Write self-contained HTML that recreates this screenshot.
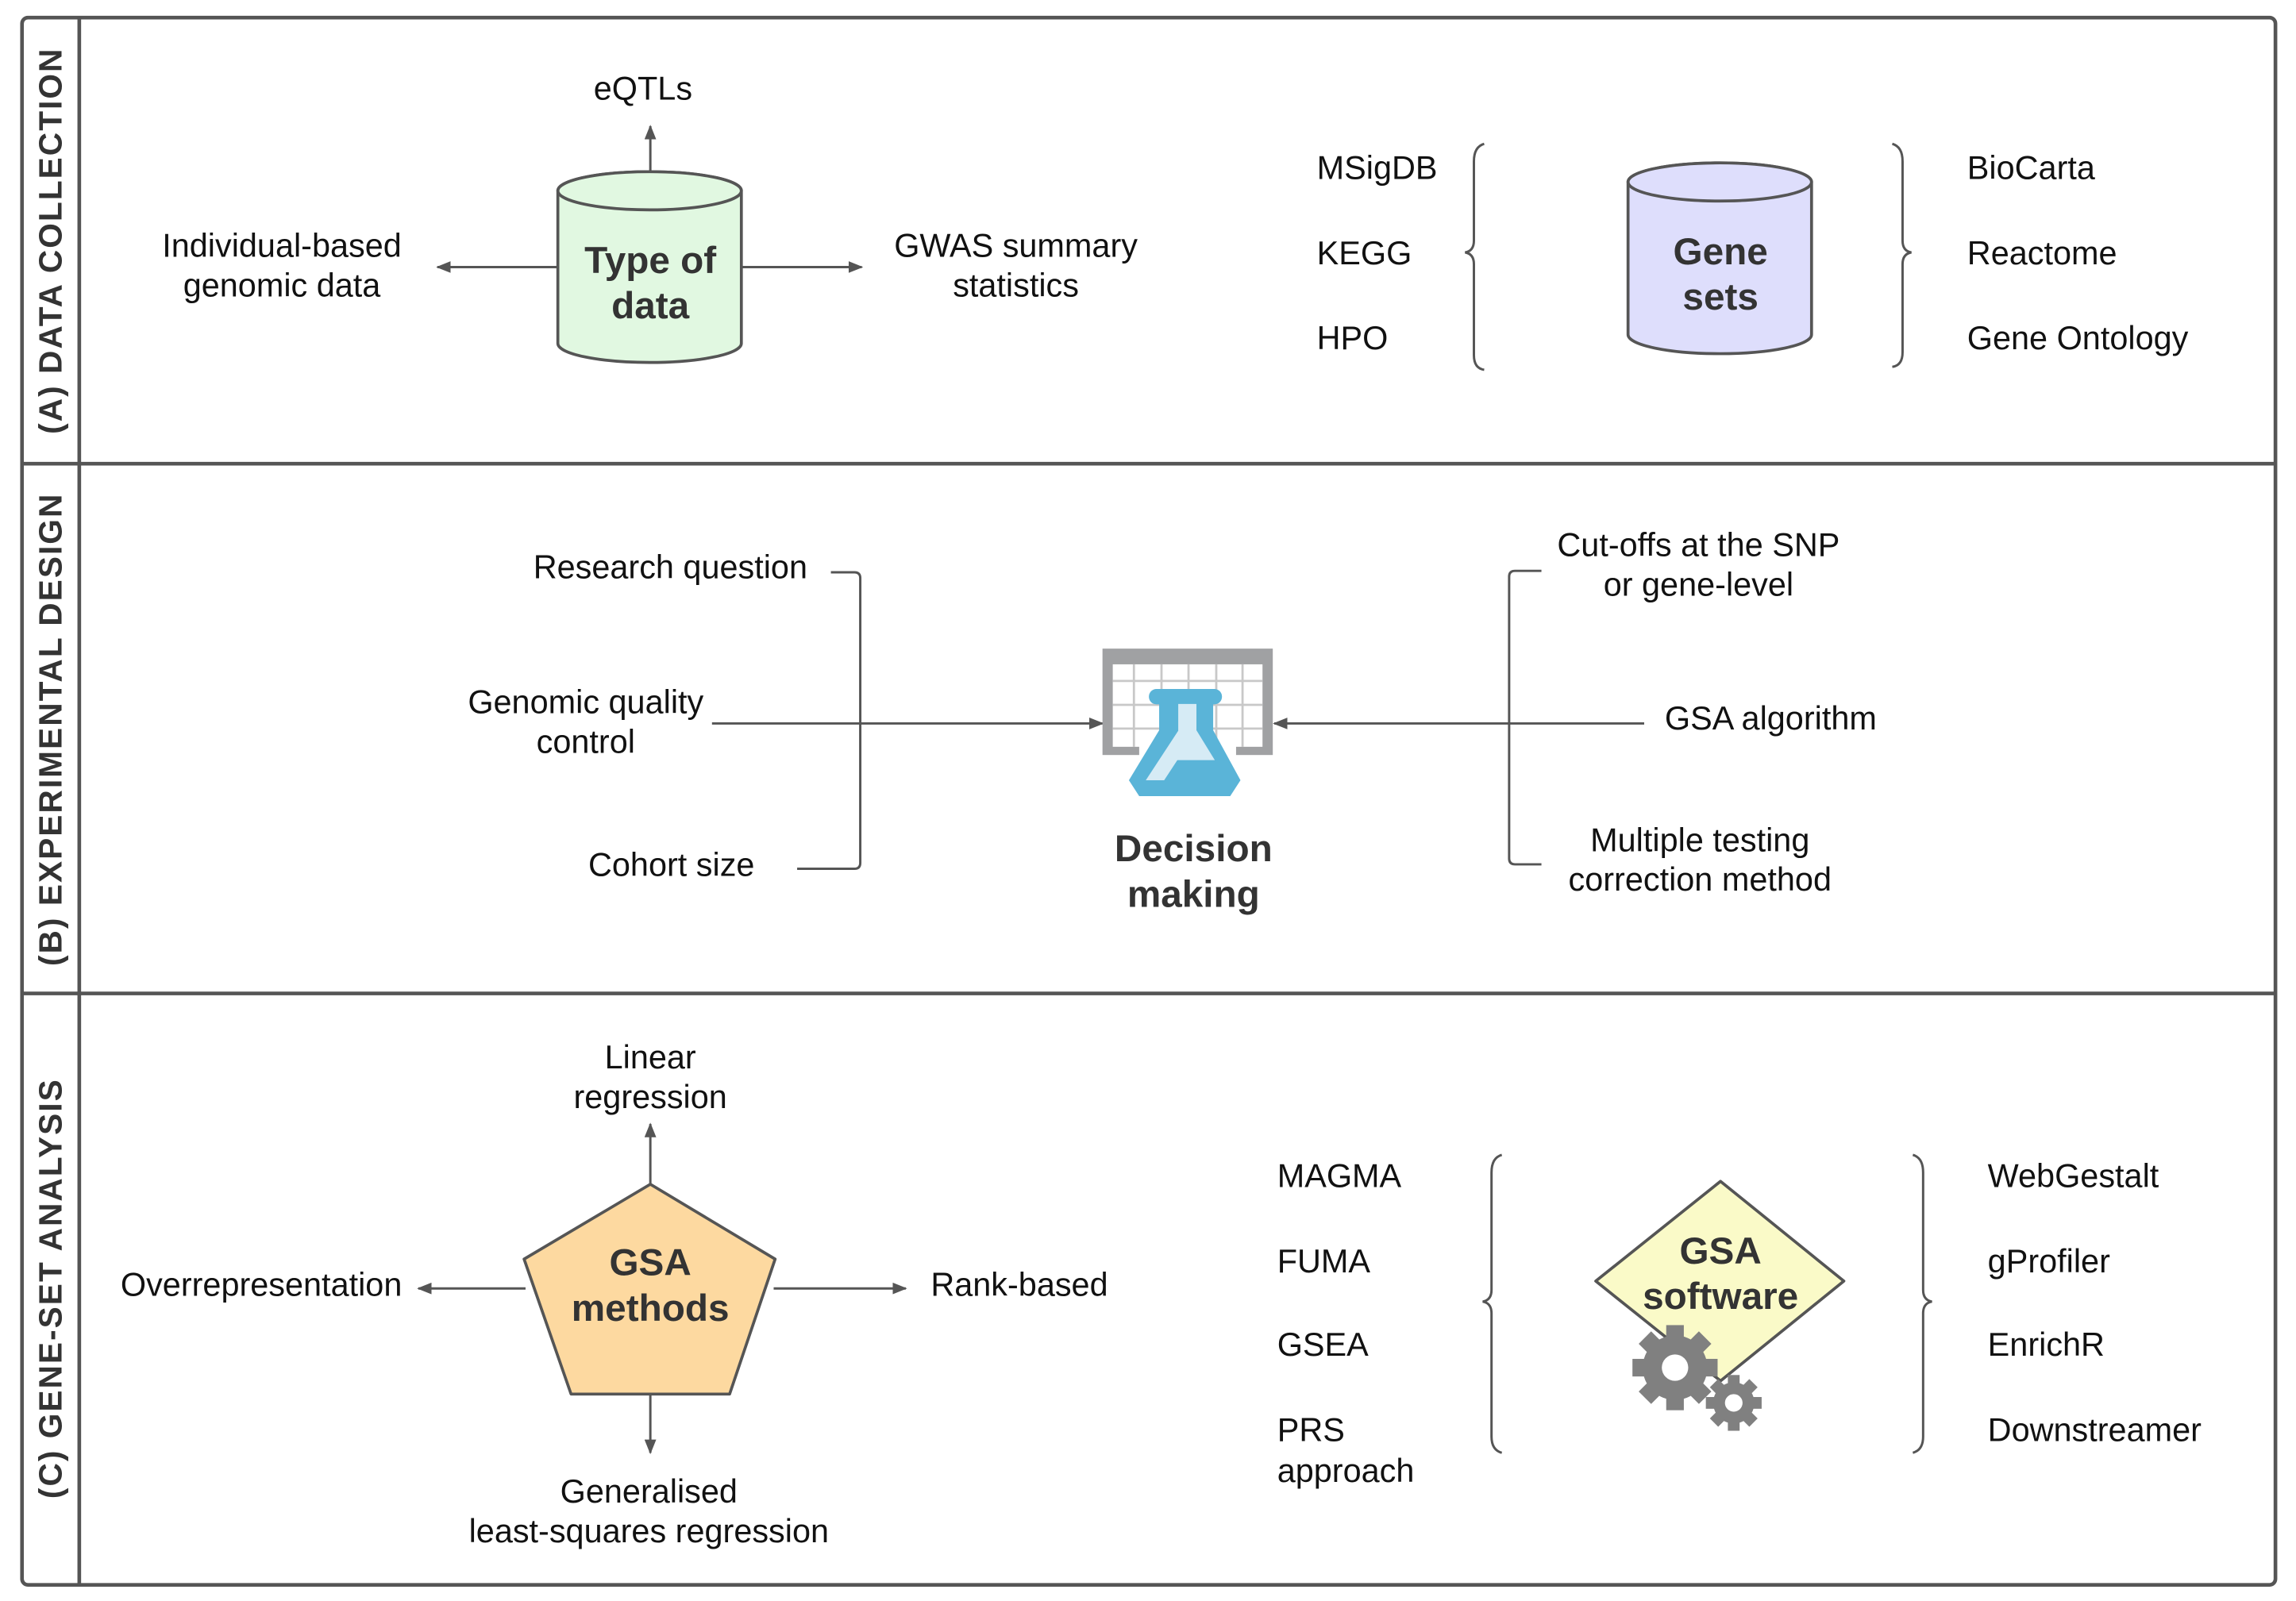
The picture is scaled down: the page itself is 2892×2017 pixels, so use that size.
<!DOCTYPE html>
<html><head><meta charset="utf-8"><style>
html,body{margin:0;padding:0;background:#fff}
svg{display:block}
text{font-family:"Liberation Sans",sans-serif;fill:#111}
.t{font-size:22.4px}
.b{font-size:25.8px;font-weight:bold;fill:#333}
.v{font-size:22px;font-weight:bold;fill:#333;letter-spacing:1.1px}
.ln{stroke:#555;stroke-width:1.6;fill:none}
</style></head><body>
<svg width="2892" height="2017" viewBox="0 0 1564 1091" preserveAspectRatio="none" xmlns="http://www.w3.org/2000/svg">
<defs>
<marker id="ah" markerWidth="10" markerHeight="8" refX="9" refY="4" orient="auto" markerUnits="userSpaceOnUse"><path d="M0,0 L10,4 L0,8 z" fill="#555"/></marker>
</defs>
<rect x="15" y="12" width="1535" height="1068" rx="4" fill="none" stroke="#555" stroke-width="2.5"/>
<line x1="54" y1="12" x2="54" y2="1080" stroke="#555" stroke-width="2.5"/>
<line x1="15" y1="316" x2="1550" y2="316" stroke="#555" stroke-width="2.5"/>
<line x1="15" y1="677" x2="1550" y2="677" stroke="#555" stroke-width="2.5"/>
<text class="v" transform="translate(42,164) rotate(-90)" text-anchor="middle">(A) DATA COLLECTION</text>
<text class="v" transform="translate(42,497) rotate(-90)" text-anchor="middle">(B) EXPERIMENTAL DESIGN</text>
<text class="v" transform="translate(42,878) rotate(-90)" text-anchor="middle">(C) GENE-SET ANALYSIS</text>

<line class="ln" x1="443" y1="117" x2="443" y2="86" marker-end="url(#ah)"/>
<line class="ln" x1="380" y1="182" x2="298" y2="182" marker-end="url(#ah)"/>
<line class="ln" x1="505" y1="182" x2="587" y2="182" marker-end="url(#ah)"/>
<path d="M380,130 L380,234 A62.5,13 0 0 0 505,234 L505,130 A62.5,13 0 0 0 380,130 z" fill="#e1f8e1" stroke="#555" stroke-width="2"/>
<ellipse cx="442.5" cy="130" rx="62.5" ry="13" fill="#e1f8e1" stroke="#555" stroke-width="2"/>
<text class="b" x="443" y="186" text-anchor="middle">Type of</text>
<text class="b" x="443" y="217" text-anchor="middle">data</text>
<text class="t" x="438" y="68" text-anchor="middle">eQTLs</text>
<text class="t" x="192" y="175" text-anchor="middle">Individual-based</text>
<text class="t" x="192" y="202" text-anchor="middle">genomic data</text>
<text class="t" x="692" y="175" text-anchor="middle">GWAS summary</text>
<text class="t" x="692" y="202" text-anchor="middle">statistics</text>

<path d="M1109,124 L1109,228 A62.5,13 0 0 0 1234,228 L1234,124 A62.5,13 0 0 0 1109,124 z" fill="#dedefc" stroke="#555" stroke-width="2"/>
<ellipse cx="1171.5" cy="124" rx="62.5" ry="13" fill="#dedefc" stroke="#555" stroke-width="2"/>
<text class="b" x="1172" y="180" text-anchor="middle">Gene</text>
<text class="b" x="1172" y="211" text-anchor="middle">sets</text>
<text class="t" x="897" y="122">MSigDB</text>
<text class="t" x="897" y="180">KEGG</text>
<text class="t" x="897" y="238">HPO</text>
<path class="ln" d="M1011,98 Q1004,100 1004,110 L1004,164 Q1004,171 998,172 Q1004,173 1004,180 L1004,242 Q1004,251 1011,252"/>
<path class="ln" d="M1289,98 Q1296,100 1296,110 L1296,164 Q1296,171 1302,172 Q1296,173 1296,180 L1296,240 Q1296,249 1289,250"/>
<text class="t" x="1340" y="122">BioCarta</text>
<text class="t" x="1340" y="180">Reactome</text>
<text class="t" x="1340" y="238">Gene Ontology</text>

<text class="t" x="550" y="394" text-anchor="end">Research question</text>
<text class="t" x="399" y="486" text-anchor="middle">Genomic quality</text>
<text class="t" x="399" y="513" text-anchor="middle">control</text>
<text class="t" x="514" y="597" text-anchor="end">Cohort size</text>
<path class="ln" d="M566,390 L582,390 Q586,390 586,394 L586,588 Q586,592 582,592 L543,592"/>
<line class="ln" x1="485" y1="493" x2="751" y2="493" marker-end="url(#ah)"/>
<path class="ln" d="M1050,389 L1032,389 Q1028,389 1028,393 L1028,585 Q1028,589 1032,589 L1050,589"/>
<line class="ln" x1="1120" y1="493" x2="868" y2="493" marker-end="url(#ah)"/>
<text class="t" x="1157" y="379" text-anchor="middle">Cut-offs at the SNP</text>
<text class="t" x="1157" y="406" text-anchor="middle">or gene-level</text>
<text class="t" x="1134" y="497">GSA algorithm</text>
<text class="t" x="1158" y="580" text-anchor="middle">Multiple testing</text>
<text class="t" x="1158" y="607" text-anchor="middle">correction method</text>
<!-- icon -->
<rect x="751" y="442" width="116" height="72.5" fill="#a0a1a3"/>
<rect x="758" y="452.7" width="102" height="56.2" fill="#fff"/>
<g stroke="#c8c8c8" stroke-width="1.5">
<line x1="758" y1="464" x2="860" y2="464"/><line x1="758" y1="480.3" x2="860" y2="480.3"/><line x1="758" y1="496.5" x2="860" y2="496.5"/>
<line x1="772.4" y1="452.7" x2="772.4" y2="509"/><line x1="791.2" y1="452.7" x2="791.2" y2="509"/><line x1="809.6" y1="452.7" x2="809.6" y2="509"/><line x1="828.5" y1="452.7" x2="828.5" y2="509"/><line x1="846.4" y1="452.7" x2="846.4" y2="509"/>
</g>
<path d="M776,505 L842,505 L842,515 L776,515 z" fill="#fff"/>
<path d="M790,485 L826,485 L826,505 L790,505 z" fill="#fff"/>
<rect x="782.6" y="469.5" width="49.8" height="10.5" rx="5.2" fill="#5ab4d8"/>
<path d="M789.6,478 L826.4,478 L826.4,497.6 L845,531.7 L838,542.5 L776,542.5 L769,531.7 L789.6,497.6 z" fill="#5ab4d8"/>
<path d="M802.6,479.7 L815,479.7 L815,497.6 L827.5,518 L802,518 L793,531.7 L780.5,531.7 L802.6,498 z" fill="#d6ebf5"/>
<text class="b" x="813" y="587" text-anchor="middle">Decision</text>
<text class="b" x="813" y="618" text-anchor="middle">making</text>

<line class="ln" x1="443" y1="807" x2="443" y2="766" marker-end="url(#ah)"/>
<line class="ln" x1="358" y1="878" x2="285" y2="878" marker-end="url(#ah)"/>
<line class="ln" x1="527" y1="878" x2="617" y2="878" marker-end="url(#ah)"/>
<line class="ln" x1="443" y1="950" x2="443" y2="990" marker-end="url(#ah)"/>
<path d="M443,807 L528,858 L497,950 L389,950 L357,858 z" fill="#fdd9a0" stroke="#555" stroke-width="2" stroke-linejoin="round"/>
<text class="b" x="443" y="869" text-anchor="middle">GSA</text>
<text class="b" x="443" y="900" text-anchor="middle">methods</text>
<text class="t" x="443" y="728" text-anchor="middle">Linear</text>
<text class="t" x="443" y="755" text-anchor="middle">regression</text>
<text class="t" x="178" y="883" text-anchor="middle">Overrepresentation</text>
<text class="t" x="634" y="883">Rank-based</text>
<text class="t" x="442" y="1024" text-anchor="middle">Generalised</text>
<text class="t" x="442" y="1051" text-anchor="middle">least-squares regression</text>

<text class="t" x="870" y="809">MAGMA</text>
<text class="t" x="870" y="867">FUMA</text>
<text class="t" x="870" y="924">GSEA</text>
<text class="t" x="870" y="982">PRS</text>
<text class="t" x="870" y="1010">approach</text>
<path class="ln" d="M1023,787 Q1016,789 1016,799 L1016,879 Q1016,886 1010,887 Q1016,888 1016,895 L1016,979 Q1016,988 1023,990"/>
<path class="ln" d="M1303,787 Q1310,789 1310,799 L1310,879 Q1310,886 1316,887 Q1310,888 1310,895 L1310,979 Q1310,988 1303,990"/>
<text class="t" x="1354" y="809">WebGestalt</text>
<text class="t" x="1354" y="867">gProfiler</text>
<text class="t" x="1354" y="924">EnrichR</text>
<text class="t" x="1354" y="982">Downstreamer</text>

<path d="M1172,805 L1256,873 L1172,941 L1087,873 z" fill="#fafac8" stroke="#555" stroke-width="2" stroke-linejoin="round"/>
<text class="b" x="1172" y="861" text-anchor="middle">GSA</text>
<text class="b" x="1172" y="892" text-anchor="middle">software</text>
<g fill="#808080">
<g transform="translate(1141,932)">
<circle r="22"/>
<rect x="-6" y="-29" width="12" height="58"/>
<rect x="-6" y="-29" width="12" height="58" transform="rotate(45)"/>
<rect x="-6" y="-29" width="12" height="58" transform="rotate(90)"/>
<rect x="-6" y="-29" width="12" height="58" transform="rotate(135)"/>
<circle r="9" fill="#fff"/>
</g>
<g transform="translate(1181,956)">
<circle r="14"/>
<rect x="-4" y="-19" width="8" height="38"/>
<rect x="-4" y="-19" width="8" height="38" transform="rotate(45)"/>
<rect x="-4" y="-19" width="8" height="38" transform="rotate(90)"/>
<rect x="-4" y="-19" width="8" height="38" transform="rotate(135)"/>
<circle r="6" fill="#fff"/>
</g>
</g>
</svg>
</body></html>
